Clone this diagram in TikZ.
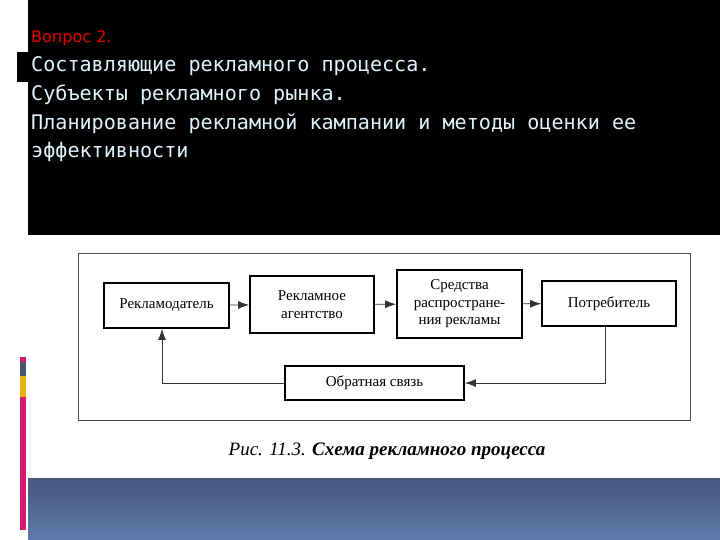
\documentclass[tikz,border=0pt]{standalone}
\usepackage{fontspec}
\usetikzlibrary{arrows.meta}
\setmainfont{Liberation Serif}
\newfontfamily\monof{DejaVu Sans Mono}
\newfontfamily\sansf{DejaVu Sans}
\definecolor{bandtop}{RGB}{70,88,126}
\definecolor{bandbot}{RGB}{92,122,170}
\definecolor{pinkc}{RGB}{214,28,110}
\definecolor{slatec}{RGB}{72,86,110}
\definecolor{goldc}{RGB}{232,176,20}
\begin{document}
\begin{tikzpicture}[x=1pt,y=-1pt,
  box/.style={draw=black,line width=1.8pt,align=center,font=\fontsize{15}{17.5}\selectfont},
  conn/.style={draw=black!80,line width=0.8pt,-{Latex[length=11pt,width=8pt]}},
  tline/.style={anchor=base west,text=white!88!cyan,font=\monof\fontsize{20.1}{21}\selectfont,inner sep=0pt}]
\useasboundingbox (0,0) rectangle (720,540);
\fill[white] (0,0) rectangle (720,540);
\fill[black] (28,0) rectangle (720,235);
\fill[black] (17,52) rectangle (28,82);
\shade[top color=bandtop, bottom color=bandbot] (28,478) rectangle (720,540);
\fill[pinkc] (20,357) rectangle (26,362);
\fill[slatec] (20,362) rectangle (26,376);
\fill[goldc] (20,376) rectangle (26,397);
\fill[pinkc] (20,397) rectangle (26,530);
\node[anchor=base west,inner sep=0pt,text=red!90!black,font=\sansf\fontsize{16}{17}\selectfont] (t0) at (31,43) {Вопрос 2.};
\node[tline] (t1) at (31,72) {Составляющие рекламного процесса.};
\node[tline] (t2) at (31,101) {Субъекты рекламного рынка.};
\node[tline] (t3) at (31,130) {Планирование рекламной кампании и методы оценки ее};
\node[tline] (t4) at (31,158) {эффективности};
\draw[black!70,line width=0.8pt] (78,253) rectangle (690,420);
\node[box,minimum width=125pt,minimum height=45pt] (a) at (166.5,305.5) {Рекламодатель};
\node[box,minimum width=124pt,minimum height=57pt] (b) at (312,304.5) {Рекламное\\агентство};
\node[box,minimum width=125pt,minimum height=68pt,inner sep=1pt] (c) at (459.5,304) {Средства\\распростране-\\ния рекламы};
\node[box,minimum width=134pt,minimum height=45pt] (d) at (609,303.5) {Потребитель};
\node[box,minimum width=179pt,minimum height=34pt] (e) at (374.5,383) {Обратная связь};
\draw[conn] (a) -- (b);
\draw[conn] (b) -- (c);
\draw[conn] (c) -- (d);
\coordinate (fl) at (162,383);
\coordinate (fr) at (605,383);
\draw[conn] (e.west) -- (fl) -- (a.south -| fl);
\draw[conn] (d.south -| fr) -- (fr) -- (e.east);
\node[font=\itshape\fontsize{19}{20}\selectfont,inner sep=0pt] (cap) at (387,451) {Рис. 11.3. \textbf{Схема рекламного процесса}};
\end{tikzpicture}
\end{document}
